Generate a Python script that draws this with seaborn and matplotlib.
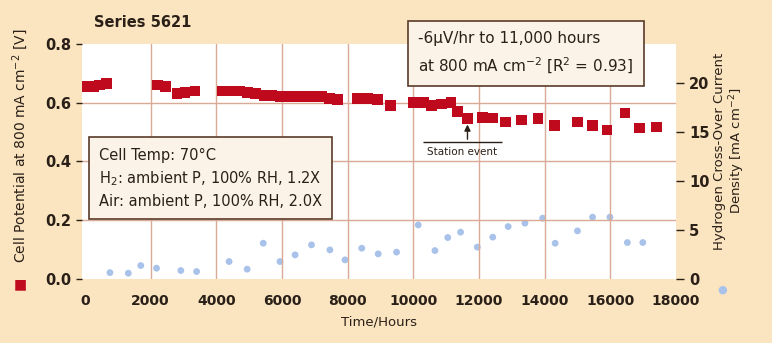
import numpy as np
import pandas as pd
import matplotlib
matplotlib.use("Agg")
import matplotlib.pyplot as plt
import seaborn as sns

# ---------------- DATA ----------------
hours_v = [0, 250, 450, 650, 2200, 2450, 2800, 3050, 3350, 4200, 4450, 4700,
           4950, 5200, 5450, 5700, 5950, 6200, 6450, 6700, 6950, 7200, 7450,
           7700, 8300, 8600, 8900, 9300, 10000, 10300, 10550, 10850, 11150,
           11350, 11650, 12100, 12430, 12800, 13300, 13800, 14300, 15000,
           15450, 15900, 16450, 16900, 17400]
cell_potential = [0.655, 0.655, 0.66, 0.665, 0.66, 0.655, 0.63, 0.635, 0.64,
                  0.64, 0.64, 0.64, 0.635, 0.63, 0.625, 0.625, 0.62, 0.62,
                  0.62, 0.62, 0.62, 0.62, 0.615, 0.61, 0.615, 0.615, 0.61,
                  0.59, 0.60, 0.60, 0.59, 0.595, 0.60, 0.57, 0.545, 0.55,
                  0.548, 0.534, 0.541, 0.545, 0.521, 0.534, 0.521, 0.507,
                  0.565, 0.514, 0.517]

hours_h2 = [760, 1320, 1700, 2180, 2920, 3400, 4390, 4940, 5430, 5940, 6400,
            6900, 7460, 7920, 8430, 8930, 9490, 10150, 10660, 11050, 11440,
            11950, 12420, 12890, 13400, 13940, 14320, 15000, 15460, 15990,
            16520, 16990]
crossover = [0.64, 0.58, 1.36, 1.09, 0.85, 0.75, 1.77, 0.99, 3.64, 1.77, 2.45,
             3.47, 2.96, 1.94, 3.13, 2.55, 2.73, 5.51, 2.89, 4.22, 4.77, 3.24,
             4.26, 5.34, 5.69, 6.20, 3.64, 4.90, 6.30, 6.30, 3.71, 3.71]

x_ticks = list(range(0, 18001, 2000))
left_ticks = [0.0, 0.2, 0.4, 0.6, 0.8]
right_ticks = [0, 5, 10, 15, 20]

df_v = pd.DataFrame({"hours": hours_v, "potential": cell_potential})
df_h = pd.DataFrame({"hours": hours_h2, "crossover": crossover})

# ---------------- STYLE ----------------
BG = "#fbe4c0"
RED = "#bf0a1e"
BLUE = "#a8c2ea"
GRID = "#d9ab96"
INK = "#2a2018"
BOXFACE = "#fbf3e8"
BOXEDGE = "#5a3b2a"

sns.set_style("white")
plt.rcParams["font.family"] = ["DejaVu Sans"]

fig = plt.figure(figsize=(7.72, 3.43), dpi=100, facecolor=BG)
ax = fig.add_axes([0.1058, 0.187, 0.7698, 0.685])
ax2 = ax.twinx()

# grid
for xv in x_ticks[1:-1]:
    ax.axvline(xv, color=GRID, lw=1.0, zorder=0)
for yv in [0.2, 0.4, 0.6]:
    ax.axhline(yv, color=GRID, lw=1.0, zorder=0)

sns.scatterplot(data=df_h, x="hours", y="crossover", ax=ax2, color=BLUE,
                marker="o", s=24, edgecolor="none", zorder=3, legend=False)
sns.scatterplot(data=df_v, x="hours", y="potential", ax=ax, color=RED,
                marker="s", s=60, edgecolor="none", zorder=4, legend=False)
ax.set_zorder(ax2.get_zorder() + 1)
ax.patch.set_visible(False)
ax2.patch.set_visible(True)
ax2.patch.set_facecolor("white")

ax.set_xlim(-100, 18000)
ax.set_ylim(0, 0.8)
ax2.set_ylim(0, 24)
ax.set_xticks(x_ticks)
ax.set_yticks(left_ticks)
ax2.set_yticks(right_ticks)
ax.set_yticklabels([f"{v:.1f}" for v in left_ticks], fontweight="bold",
                   fontsize=10.5, color=INK)
ax2.set_yticklabels([str(v) for v in right_ticks], fontweight="bold",
                    fontsize=10.5, color=INK)
ax.set_xticklabels([str(v) for v in x_ticks], fontweight="bold",
                   fontsize=10, color=INK)
ax.tick_params(axis="x", length=4, color=INK, width=1, pad=7)
ax.tick_params(axis="y", length=4, color=INK, width=1)
ax2.tick_params(axis="y", length=6, color=INK, width=1)
ax.set_xlabel("Time/Hours", fontsize=9.5, color=INK, labelpad=5)
ax.set_ylabel("")
ax2.set_ylabel("")
for a in (ax, ax2):
    for sp in a.spines.values():
        sp.set_visible(False)

# axis labels with legend markers
fig.text(0.026, 0.575, "Cell Potential at 800 mA cm$^{-2}$ [V]", rotation=90,
         ha="center", va="center", fontsize=10, color=INK)
fig.text(0.026, 0.172, "\u25A0", color=RED, ha="center", va="center", fontsize=10)
fig.text(0.946, 0.56, "Hydrogen Cross-Over Current\nDensity [mA cm$^{-2}$]",
         rotation=90, ha="center", va="center", fontsize=9.5, color=INK,
         multialignment="center", linespacing=1.1)
fig.text(0.935, 0.155, "\u25CF", color=BLUE, ha="center", va="center", fontsize=8)

fig.text(0.122, 0.935, "Series 5621", fontsize=10.5, fontweight="bold", color=INK,
         ha="left", va="center")

# condition box
ax.text(430, 0.342, "Cell Temp: 70\u00B0C\nH$_2$: ambient P, 100% RH, 1.2X\n"
        "Air: ambient P, 100% RH, 2.0X", fontsize=10.5, color=INK, ha="left",
        va="center", linespacing=1.5, zorder=6,
        bbox=dict(boxstyle="square,pad=0.7", facecolor=BOXFACE,
                  edgecolor=BOXEDGE, lw=1.2))

# slope box
ax.text(10150, 0.768, "-6\u00B5V/hr to 11,000 hours\n"
        "at 800 mA cm$^{-2}$ [R$^2$ = 0.93]", fontsize=11, color=INK,
        ha="left", va="center", linespacing=1.6, zorder=6, clip_on=False,
        bbox=dict(boxstyle="square,pad=0.7", facecolor=BOXFACE,
                  edgecolor=BOXEDGE, lw=1.2))

# station event
ax.hlines(0.466, 10300, 12700, color=INK, lw=1.0, zorder=5)
ax.annotate("", xy=(11650, 0.535), xytext=(11650, 0.466),
            arrowprops=dict(arrowstyle="-|>", color=INK, lw=1.0,
                            mutation_scale=9), zorder=5)
ax.text(11500, 0.432, "Station event", fontsize=7.5, color=INK,
        ha="center", va="center", zorder=5)

fig.savefig("out.png", dpi=100, facecolor=BG)
